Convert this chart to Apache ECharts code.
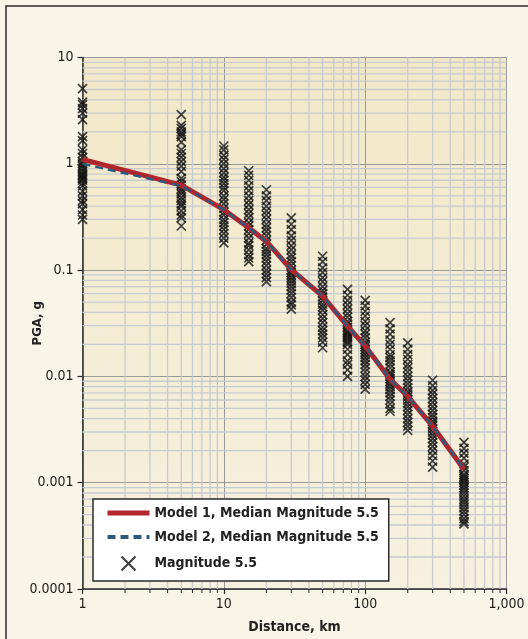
<!DOCTYPE html>
<html>
<head>
<meta charset="utf-8">
<script src="https://cdn.jsdelivr.net/npm/echarts@6/dist/echarts.min.js"></script>
<style>
  html, body { margin: 0; padding: 0; background: #f8f5e8; }
  #chart { width: 528px; height: 639px; }
</style>
</head>
<body>
<div id="chart"></div>
<script>
// distances (km) where records were read
var distances = [1, 5, 10, 15, 20, 30, 50, 75, 100, 150, 200, 300, 500]

// median curves
var model1 = [1.1, 0.63, 0.37, 0.25, 0.186, 0.101, 0.057, 0.0297, 0.0193, 0.0094, 0.0065, 0.0034, 0.00134]
var model2 = [1.0, 0.62, 0.37, 0.25, 0.186, 0.101, 0.057, 0.0297, 0.0193, 0.0094, 0.0065, 0.0034, 0.00134]

// recorded PGA values per distance, magnitude 5.5
var pga1 = [5.1, 3.8, 3.6, 3.3, 3.0, 2.6, 1.8, 1.65, 1.35, 1.25, 1.15, 1.05, 1.0, 0.95, 0.9, 0.85, 0.8, 0.78, 0.75, 0.72, 0.7, 0.66, 0.62, 0.55, 0.5, 0.45, 0.42, 0.37, 0.33, 0.3]
var pga5 = [2.9, 2.3, 2.15, 2.0, 1.9, 1.8, 1.6, 1.35, 1.25, 1.15, 1.05, 0.95, 0.85, 0.73, 0.68, 0.63, 0.58, 0.55, 0.52, 0.48, 0.45, 0.42, 0.4, 0.36, 0.33, 0.31, 0.26]
var pga10 = [1.47, 1.35, 1.2, 1.1, 1.0, 0.9, 0.82, 0.75, 0.7, 0.65, 0.6, 0.56, 0.5, 0.46, 0.42, 0.38, 0.35, 0.33, 0.3, 0.28, 0.26, 0.24, 0.22, 0.2, 0.18]
var pga15 = [0.86, 0.78, 0.7, 0.62, 0.56, 0.5, 0.45, 0.41, 0.37, 0.34, 0.31, 0.28, 0.26, 0.24, 0.22, 0.2, 0.18, 0.17, 0.155, 0.14, 0.13, 0.12]
var pga20 = [0.57, 0.5, 0.45, 0.4, 0.36, 0.33, 0.3, 0.27, 0.25, 0.23, 0.21, 0.19, 0.175, 0.16, 0.15, 0.14, 0.13, 0.12, 0.11, 0.1, 0.092, 0.085, 0.078]
var pga30 = [0.31, 0.27, 0.24, 0.21, 0.19, 0.17, 0.155, 0.14, 0.13, 0.12, 0.11, 0.1, 0.095, 0.09, 0.085, 0.08, 0.075, 0.07, 0.065, 0.06, 0.055, 0.05, 0.047, 0.043]
var pga50 = [0.135, 0.12, 0.105, 0.095, 0.085, 0.078, 0.07, 0.064, 0.06, 0.056, 0.052, 0.048, 0.045, 0.042, 0.038, 0.035, 0.032, 0.029, 0.027, 0.025, 0.023, 0.021, 0.0186]
var pga75 = [0.066, 0.058, 0.052, 0.047, 0.043, 0.039, 0.036, 0.033, 0.031, 0.029, 0.027, 0.026, 0.025, 0.024, 0.023, 0.022, 0.021, 0.02, 0.018, 0.016, 0.014, 0.013, 0.0115, 0.01]
var pga100 = [0.052, 0.046, 0.041, 0.037, 0.033, 0.03, 0.027, 0.025, 0.023, 0.021, 0.02, 0.019, 0.018, 0.017, 0.016, 0.015, 0.014, 0.013, 0.012, 0.011, 0.01, 0.0092, 0.0084, 0.0076]
var pga150 = [0.032, 0.028, 0.025, 0.022, 0.02, 0.018, 0.016, 0.015, 0.014, 0.013, 0.012, 0.011, 0.0105, 0.01, 0.0095, 0.009, 0.0085, 0.008, 0.0075, 0.007, 0.0065, 0.006, 0.0055, 0.005, 0.0047]
var pga200 = [0.0207, 0.018, 0.016, 0.0145, 0.013, 0.012, 0.011, 0.01, 0.0092, 0.0085, 0.0078, 0.0072, 0.0068, 0.0064, 0.006, 0.0056, 0.0052, 0.0048, 0.0044, 0.004, 0.0037, 0.0034, 0.0031]
var pga300 = [0.0092, 0.0082, 0.0074, 0.0068, 0.0062, 0.0057, 0.0052, 0.0048, 0.0044, 0.0041, 0.0038, 0.0036, 0.0034, 0.0032, 0.003, 0.0028, 0.0026, 0.0024, 0.0022, 0.002, 0.0018, 0.0016, 0.0014]
var pga500 = [0.0024, 0.0021, 0.0019, 0.0017, 0.0015, 0.0014, 0.0013, 0.0012, 0.00115, 0.0011, 0.00105, 0.001, 0.00095, 0.0009, 0.00085, 0.0008, 0.00075, 0.0007, 0.00066, 0.00062, 0.00058, 0.00054, 0.0005, 0.00046, 0.00043, 0.00041]
var records = [pga1, pga5, pga10, pga15, pga20, pga30, pga50, pga75, pga100, pga150, pga200, pga300, pga500]

// minor grid values
var minorX = [2, 3, 4, 5, 6, 7, 8, 9, 20, 30, 40, 50, 60, 70, 80, 90, 200, 300, 400, 500, 600, 700, 800, 900]
var minorY = [0.0002, 0.0003, 0.0004, 0.0005, 0.0006, 0.0007, 0.0008, 0.0009,
  0.002, 0.003, 0.004, 0.005, 0.006, 0.007, 0.008, 0.009,
  0.02, 0.03, 0.04, 0.05, 0.06, 0.07, 0.08, 0.09,
  0.2, 0.3, 0.4, 0.5, 0.6, 0.7, 0.8, 0.9,
  2, 3, 4, 5, 6, 7, 8, 9]

var X_MIN = 1, X_MAX = 1000, Y_MIN = 0.0001, Y_MAX = 10
var FONT = "'DejaVu Sans Condensed', 'DejaVu Sans', sans-serif"
var HIDE_SYMBOL = { color: 'rgba(0,0,0,0)', borderColor: 'rgba(0,0,0,0)', borderWidth: 0 }

var scatterData = []
distances.forEach(function (d, i) {
  records[i].forEach(function (v) { scatterData.push([d, v]) })
})

var chart = echarts.init(document.getElementById('chart'))

chart.setOption({
  backgroundColor: '#f8f5e8',
  animation: false,
  graphic: [{
    type: 'rect',
    shape: { x: 6, y: 6, width: 540, height: 660 },
    style: { fill: 'none', stroke: '#2a2a2a', lineWidth: 1.5 },
    silent: true,
    z: 100
  }],
  grid: {
    left: 82.5,
    right: 21.5,
    top: 57.5,
    bottom: 49,
    show: true,
    borderWidth: 0,
    backgroundColor: {
      type: 'linear', x: 0, y: 0, x2: 0, y2: 1,
      colorStops: [{ offset: 0, color: '#f2e8c8' }, { offset: 1, color: '#f6f1e0' }]
    }
  },
  legend: {
    orient: 'vertical',
    left: 93,
    top: 499,
    padding: [7, 10, 8, 12],
    itemWidth: 42,
    itemHeight: 14,
    itemGap: 10,
    backgroundColor: '#ffffff',
    borderColor: '#2a2a2a',
    borderWidth: 1.5,
    borderRadius: 0,
    textStyle: { fontFamily: FONT, fontSize: 14, fontWeight: 'bold', color: '#222' },
    data: [
      { name: 'Model 1, Median Magnitude 5.5', lineStyle: { width: 5 }, itemStyle: HIDE_SYMBOL },
      { name: 'Model 2, Median Magnitude 5.5', lineStyle: { width: 4 }, itemStyle: HIDE_SYMBOL },
      { name: 'Magnitude 5.5', itemStyle: { borderWidth: 2.2 } }
    ]
  },
  xAxis: {
    type: 'log',
    logBase: 10,
    min: X_MIN,
    max: X_MAX,
    name: 'Distance, km',
    nameLocation: 'middle',
    nameGap: 31,
    nameMoveOverlap: false,
    nameTextStyle: { fontFamily: FONT, fontSize: 14, fontWeight: 'bold', color: '#222' },
    axisLine: { lineStyle: { color: '#2a2a2a', width: 1.5 } },
    axisTick: { show: true, length: 5, lineStyle: { color: '#2a2a2a', width: 1.2 } },
    axisLabel: {
      margin: 8,
      fontFamily: FONT, fontSize: 14, color: '#1a1a1a',
      formatter: function (v) { return Math.round(v).toLocaleString('en-US') }
    },
    splitLine: { show: true, lineStyle: { color: '#999999', width: 1 } }
  },
  yAxis: {
    type: 'log',
    logBase: 10,
    min: Y_MIN,
    max: Y_MAX,
    name: 'PGA, g',
    nameLocation: 'middle',
    nameGap: 38,
    nameMoveOverlap: false,
    nameTextStyle: { fontFamily: FONT, fontSize: 13, fontWeight: 'bold', color: '#222' },
    axisLine: { show: true, lineStyle: { color: '#2a2a2a', width: 1.5 } },
    axisTick: { show: true, length: 5, lineStyle: { color: '#2a2a2a', width: 1.2 } },
    axisLabel: {
      margin: 9,
      fontFamily: FONT, fontSize: 14, color: '#1a1a1a',
      formatter: function (v) { return String(Number(v.toPrecision(1))) }
    },
    splitLine: { show: true, lineStyle: { color: '#999999', width: 1 } }
  },
  series: [
    {
      name: 'minorX',
      type: 'custom',
      silent: true,
      clip: false,
      z: 1,
      data: minorX.map(function (v) { return [v, 1] }),
      renderItem: function (params, api) {
        var top = api.coord([api.value(0), Y_MAX])
        var bot = api.coord([api.value(0), Y_MIN])
        return {
          type: 'group',
          children: [
            { type: 'line', shape: { x1: top[0], y1: top[1], x2: bot[0], y2: bot[1] }, style: { stroke: '#c7cacf', lineWidth: 1.3 } },
            { type: 'line', shape: { x1: bot[0], y1: bot[1], x2: bot[0], y2: bot[1] + 4 }, style: { stroke: '#2a2a2a', lineWidth: 1 } }
          ]
        }
      }
    },
    {
      name: 'minorY',
      type: 'custom',
      silent: true,
      z: 1,
      data: minorY.map(function (v) { return [1, v] }),
      renderItem: function (params, api) {
        var l = api.coord([X_MIN, api.value(1)])
        var r = api.coord([X_MAX, api.value(1)])
        return { type: 'line', shape: { x1: l[0], y1: l[1], x2: r[0], y2: r[1] }, style: { stroke: '#c7cacf', lineWidth: 1.3 } }
      }
    },
    {
      name: 'Magnitude 5.5',
      type: 'scatter',
      symbol: 'path://M0,0L10,10M10,0L0,10',
      symbolSize: 9,
      itemStyle: { color: 'none', borderColor: '#111111', borderWidth: 1.7 },
      data: scatterData,
      z: 3
    },
    {
      name: 'Model 1, Median Magnitude 5.5',
      type: 'line',
      symbol: 'none',
      showSymbol: false,
      color: '#b3252c',
      lineStyle: { color: '#b3252c', width: 5 },
      data: distances.map(function (d, i) { return [d, model1[i]] }),
      z: 4
    },
    {
      name: 'Model 2, Median Magnitude 5.5',
      type: 'line',
      symbol: 'none',
      showSymbol: false,
      color: '#2d5a7c',
      lineStyle: { color: '#2d5a7c', width: 2.5, type: [8, 5] },
      data: distances.map(function (d, i) { return [d, model2[i]] }),
      z: 5
    }
  ]
})
</script>
</body>
</html>
